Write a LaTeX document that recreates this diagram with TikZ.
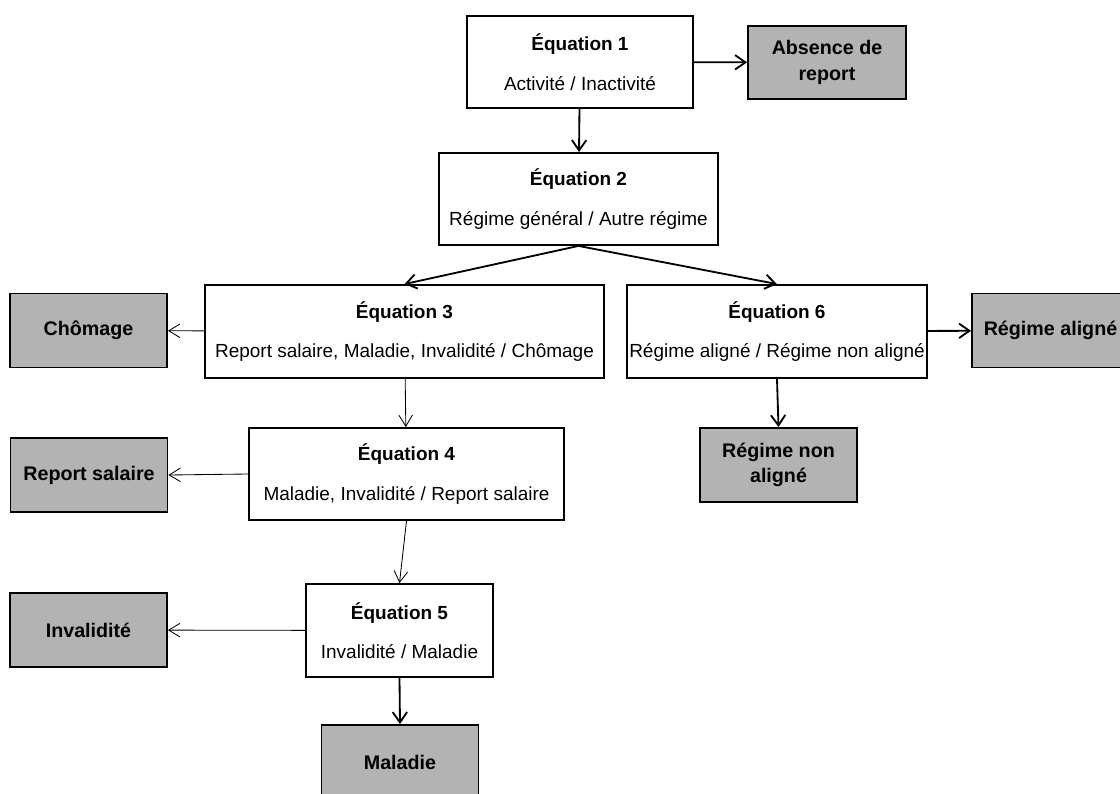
\documentclass[tikz,border=0pt]{standalone}
\usepackage{fontspec}
\setmainfont{Liberation Sans}
\usepackage{tikz}
\usetikzlibrary{arrows.meta}
\definecolor{boxgray}{RGB}{179,179,179}

\begin{document}
\begin{tikzpicture}[x=0.025cm,y=-0.025cm,
        font=\fontsize{13.5}{16}\selectfont,
        eqbox/.style={draw, line width=1.3pt, fill=white, align=center, inner sep=0pt},
        outbox/.style={draw, line width=1.3pt, fill=boxgray, align=center, inner sep=0pt,
                minimum width=3.925cm, minimum height=1.85cm, font=\fontsize{14}{16}\selectfont\bfseries},
        thickarrow/.style={-{Straight Barb[length=2.6mm,width=3.6mm]}, line width=1.3pt},
        thinarrow/.style={-{Straight Barb[length=2.8mm,width=3.4mm]}, line width=0.6pt}]
        \useasboundingbox (0,0) rectangle (1120,794);
        %equations
        \node[eqbox, minimum width=5.65cm, minimum height=2.3cm] (eq1) at (580,62)
                {\textbf{Équation 1}\\[12pt]Activité / Inactivité};
        \node[eqbox, minimum width=6.975cm, minimum height=2.3cm] (eq2) at (578.5,199)
                {\textbf{Équation 2}\\[12pt]Régime général / Autre régime};
        \node[eqbox, minimum width=9.975cm, minimum height=2.325cm] (eq3) at (404.5,331.5)
                {\textbf{Équation 3}\\[12pt]Report salaire, Maladie, Invalidité / Chômage};
        \node[eqbox, minimum width=7.875cm, minimum height=2.3cm] (eq4) at (406.5,474)
                {\textbf{Équation 4}\\[12pt]Maladie, Invalidité / Report salaire};
        \node[eqbox, minimum width=4.675cm, minimum height=2.325cm] (eq5) at (399.5,630.5)
                {\textbf{Équation 5}\\[12pt]Invalidité / Maladie};
        \node[eqbox, minimum width=7.5cm, minimum height=2.325cm] (eq6) at (777,331.5)
                {\textbf{Équation 6}\\[12pt]Régime aligné / Régime non aligné};
        %outcomes
        \node[outbox, minimum width=3.95cm, minimum height=1.825cm] (absence) at (827,62.5) {Absence de\\[2pt]report};
        \node[outbox] (chomage) at (88.5,330.5) {Chômage};
        \node[outbox] (report) at (89,475) {Report salaire};
        \node[outbox] (invalidite) at (88.5,630) {Invalidité};
        \node[outbox] (maladie) at (400,762) {Maladie};
        \node[outbox] (aligne) at (1050.5,330.5) {Régime aligné};
        \node[outbox] (nonaligne) at (778.5,465) {Régime non\\[2pt]aligné};
        %arrows
        \draw[thickarrow] (eq1) -- (absence);
        \draw[thickarrow] (eq1) -- (eq2);
        \draw[thickarrow] (eq2.south) -- (eq3.north);
        \draw[thickarrow] (eq2.south) -- (eq6.north);
        \draw[thinarrow] (eq3) -- (chomage);
        \draw[thinarrow] (eq3) -- (eq4);
        \draw[thinarrow] (eq4.west) -- (report.east);
        \draw[thinarrow] (eq4.south) -- (eq5.north);
        \draw[thinarrow] (eq5) -- (invalidite);
        \draw[thickarrow] (eq5.south) -- (maladie.north);
        \draw[thickarrow] (eq6) -- (aligne);
        \draw[thickarrow] (eq6.south) -- (nonaligne.north);
\end{tikzpicture}
\end{document}
